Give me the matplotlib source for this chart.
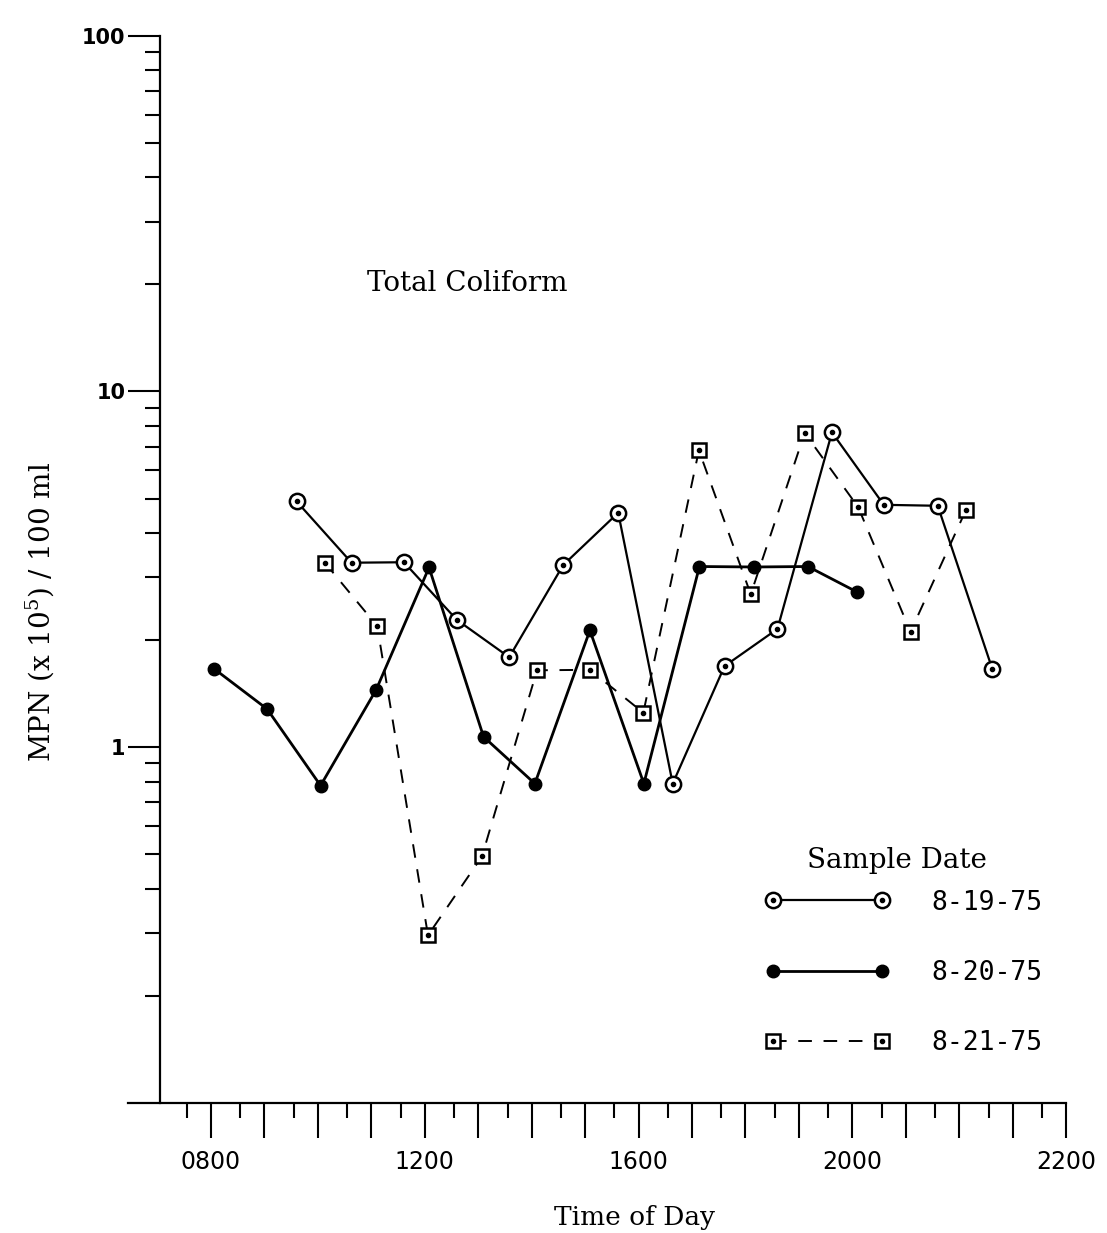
import matplotlib
matplotlib.use("Agg")
import matplotlib.pyplot as plt
from matplotlib.legend_handler import HandlerTuple

plt.rcParams['mathtext.fontset'] = 'dejavuserif'

# ---- data (x = position on the hour axis, y = MPN x 1e5 / 100 ml) ----
t_0819 = [9.60, 10.63, 11.61, 12.60, 13.58, 14.59, 15.62, 16.64, 17.61, 18.60, 19.62, 20.59, 21.60, 22.62]
v_0819 = [4.91, 3.30, 3.31, 2.28, 1.79, 3.25, 4.56, 0.79, 1.69, 2.15, 7.67, 4.80, 4.77, 1.66]

t_0820 = [8.06, 9.05, 10.05, 11.09, 12.08, 13.10, 14.06, 15.09, 16.10, 17.14, 18.17, 19.17, 20.09]
v_0820 = [1.66, 1.28, 0.78, 1.45, 3.20, 1.07, 0.79, 2.13, 0.79, 3.22, 3.21, 3.22, 2.73]

t_0821 = [10.13, 11.11, 12.06, 13.07, 14.10, 15.09, 16.09, 17.13, 18.10, 19.11, 20.11, 21.09, 22.13]
v_0821 = [3.30, 2.19, 0.296, 0.493, 1.645, 1.65, 1.25, 6.83, 2.69, 7.64, 4.73, 2.11, 4.65]

series_labels = ['8-19-75', '8-20-75', '8-21-75']

x_major = list(range(8, 25))
x_tick_labels = {8: '0800', 12: '1200', 16: '1600', 20: '2000', 24: '2200'}
y_ticks = [1, 10, 100]
y_tick_labels = ['1', '10', '100']

# ---- figure ----
W, H = 1107, 1233
fig = plt.figure(figsize=(W / 100, H / 100), dpi=100)
ax = fig.add_axes([160 / W, 130 / H, (1066 - 160) / W, (1103 - 35.6) / H])

ax.set_yscale('log')
ax.set_ylim(0.1, 100)
ax.set_xlim(7.045, 24)

ax.spines['top'].set_visible(False)
ax.spines['right'].set_visible(False)
for s in ('left', 'bottom'):
    ax.spines[s].set_linewidth(1.6)
ax.spines['bottom'].set_bounds(6.45, 24)
ax.spines['bottom'].set_clip_on(False)

# x ticks
ax.set_xticks(x_major)
ax.set_xticklabels([x_tick_labels.get(h, '') for h in x_major],
                   fontfamily='DejaVu Sans', fontsize=17)
ax.set_xticks([h - 0.45 for h in x_major], minor=True)
ax.tick_params(axis='x', which='major', direction='out', length=25, width=1.5, pad=9)
ax.tick_params(axis='x', which='minor', direction='out', length=11, width=1.5)

# y ticks
ax.set_yticks(y_ticks)
ax.set_yticklabels(y_tick_labels, fontfamily='DejaVu Sans', fontweight='bold', fontsize=15)
ax.tick_params(axis='y', which='major', direction='out', length=23, width=1.5, pad=2)
ax.tick_params(axis='y', which='minor', direction='out', length=11, width=1.5)
ax.yaxis.set_minor_formatter(plt.NullFormatter())

# ---- series ----
l1, = ax.plot(t_0819, v_0819, color='black', lw=1.6, marker='o', ms=11,
              mfc='white', mec='black', mew=1.8, zorder=3)
d1, = ax.plot(t_0819, v_0819, ls='none', marker='o', ms=3, color='black', zorder=4)

l2, = ax.plot(t_0820, v_0820, color='black', lw=2.0, marker='o', ms=9,
              mfc='black', mec='black', zorder=3)

l3, = ax.plot(t_0821, v_0821, color='black', lw=1.4, ls=(0, (7, 6)), marker='s', ms=10,
              mfc='white', mec='black', mew=1.8, zorder=3)
d3, = ax.plot(t_0821, v_0821, ls='none', marker='o', ms=3, color='black', zorder=4)

# ---- texts ----
ax.text(0.229, 0.768, 'Total Coliform', transform=ax.transAxes,
        fontfamily='DejaVu Serif', fontsize=20, ha='left', va='center')
ax.set_xlabel('Time of Day', fontfamily='DejaVu Serif', fontsize=19, labelpad=22,
              x=(634 - 160) / 906)
fig.text(40 / W, 1 - 612 / H, 'MPN (x 10$^5$) / 100 ml', rotation=90,
         fontfamily='DejaVu Serif', fontsize=20, ha='center', va='center')

ax.text((897 - 160) / 906, (1103 - 860) / 1067.4, 'Sample Date', transform=ax.transAxes,
        fontfamily='DejaVu Serif', fontsize=20, ha='center', va='center')

leg = ax.legend([(l1, d1), (l2,), (l3, d3)], series_labels,
                handler_map={tuple: HandlerTuple(ndivide=1)},
                numpoints=2, handlelength=4.7, handletextpad=1.6, labelspacing=1.68,
                frameon=False, loc='center left',
                bbox_to_anchor=(0.642, (1103 - 973) / 1067.4),
                prop={'family': 'DejaVu Sans Mono', 'size': 19})

fig.savefig('out.png', dpi=100)
